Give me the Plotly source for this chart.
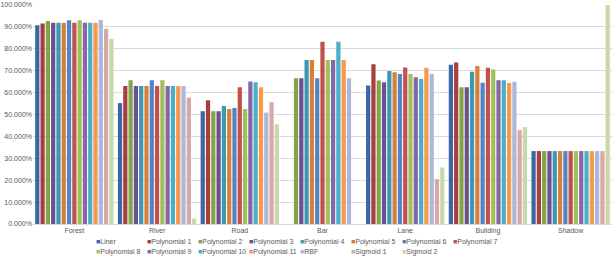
import plotly.graph_objects as go

categories = ["Forest", "River", "Road", "Bar", "Lane", "Building", "Shadow"]

series_names = ["Liner", "Polynomial 1", "Polynomial 2", "Polynomial 3", "Polynomial 4",
                "Polynomial 5", "Polynomial 6", "Polynomial 7", "Polynomial 8", "Polynomial 9",
                "Polynomial 10", "Polynomial 11", "RBF", "Sigmoid 1", "Sigmoid 2"]

colors = ["#3D66A6", "#A63F3D", "#86A34C", "#6A5290", "#3C98B2", "#D6813B",
          "#5185C5", "#C4504D", "#9FC05B", "#8566A8", "#4BAFCA", "#F7994B",
          "#AAB9DB", "#D9A7A6", "#C7D9A8"]

# values per category, one entry per series (fractions)
forest = [0.907, 0.915, 0.927, 0.919, 0.919, 0.919, 0.930, 0.919, 0.930, 0.919, 0.919, 0.919, 0.932, 0.892, 0.845]
river = [0.552, 0.630, 0.656, 0.630, 0.630, 0.630, 0.656, 0.630, 0.656, 0.630, 0.630, 0.630, 0.630, 0.577, 0.025]
road = [0.515, 0.565, 0.515, 0.515, 0.539, 0.525, 0.530, 0.625, 0.525, 0.651, 0.647, 0.624, 0.509, 0.556, 0.455]
bar = [0.0, 0.0, 0.665, 0.665, 0.749, 0.749, 0.665, 0.832, 0.749, 0.749, 0.832, 0.749, 0.665, 0.0, 0.0]
lane = [0.632, 0.730, 0.655, 0.647, 0.699, 0.693, 0.685, 0.715, 0.685, 0.670, 0.662, 0.714, 0.685, 0.205, 0.258]
building = [0.727, 0.738, 0.625, 0.625, 0.695, 0.721, 0.645, 0.714, 0.706, 0.656, 0.656, 0.644, 0.650, 0.429, 0.442]
shadow = [0.333, 0.333, 0.333, 0.333, 0.333, 0.333, 0.333, 0.333, 0.333, 0.333, 0.333, 0.333, 0.333, 0.333, 1.0]

by_category = [forest, river, road, bar, lane, building, shadow]

W, H = 615, 258
text_color = "#595959"
font_family = "Liberation Sans, Arial, sans-serif"
row1_count = 8

fig = go.Figure()
for i, name in enumerate(series_names):
    vals = [cat[i] for cat in by_category]
    fig.add_trace(go.Bar(x=categories, y=vals, name=name,
                         marker=dict(color=colors[i], line=dict(width=0)),
                         showlegend=False))

# legend entries (small coloured square glyph + name, like the original)
for i, name in enumerate(series_names):
    last_in_row = (i == row1_count - 1) or (i == len(series_names) - 1)
    fig.add_trace(go.Scatter(
        x=[None], y=[None], mode="markers",
        marker=dict(opacity=0, size=1, color="rgba(0,0,0,0)", line=dict(width=0)),
        name=f'<span style="color:{colors[i]}">■</span>{name}',
        legend="legend" if i < row1_count else "legend2",
        legendwidth=50 if last_in_row else None,
        showlegend=True, hoverinfo="skip"))

legend_common = dict(
    orientation="h", xref="container", yref="container",
    xanchor="left", yanchor="middle",
    entrywidth=6, entrywidthmode="pixels",
    font=dict(size=7, color=text_color, family=font_family),
    bgcolor="rgba(0,0,0,0)", borderwidth=0,
    itemclick=False, itemdoubleclick=False,
)

fig.update_layout(
    width=W, height=H,
    margin=dict(l=33, r=3, t=5, b=34, autoexpand=False),
    paper_bgcolor="white", plot_bgcolor="white",
    barmode="group", bargap=0.04, bargroupgap=0.2,
    font=dict(family=font_family, size=7, color=text_color),
    legend=dict(x=(96 - 40) / W, y=(H - 241) / H, **legend_common),
    legend2=dict(x=(96 - 40) / W, y=(H - 251) / H, **legend_common),
    xaxis=dict(showgrid=False, ticks="", showline=True, linecolor="#D9D9D9",
               linewidth=1, tickfont=dict(size=7, color=text_color)),
    yaxis=dict(range=[0, 1.0], dtick=0.1, tickformat=".3%",
               showgrid=True, gridcolor="#D9D9D9", gridwidth=1,
               zeroline=False, ticks="", showline=False,
               tickfont=dict(size=7, color=text_color)),
)

fig.write_html("out.html")
